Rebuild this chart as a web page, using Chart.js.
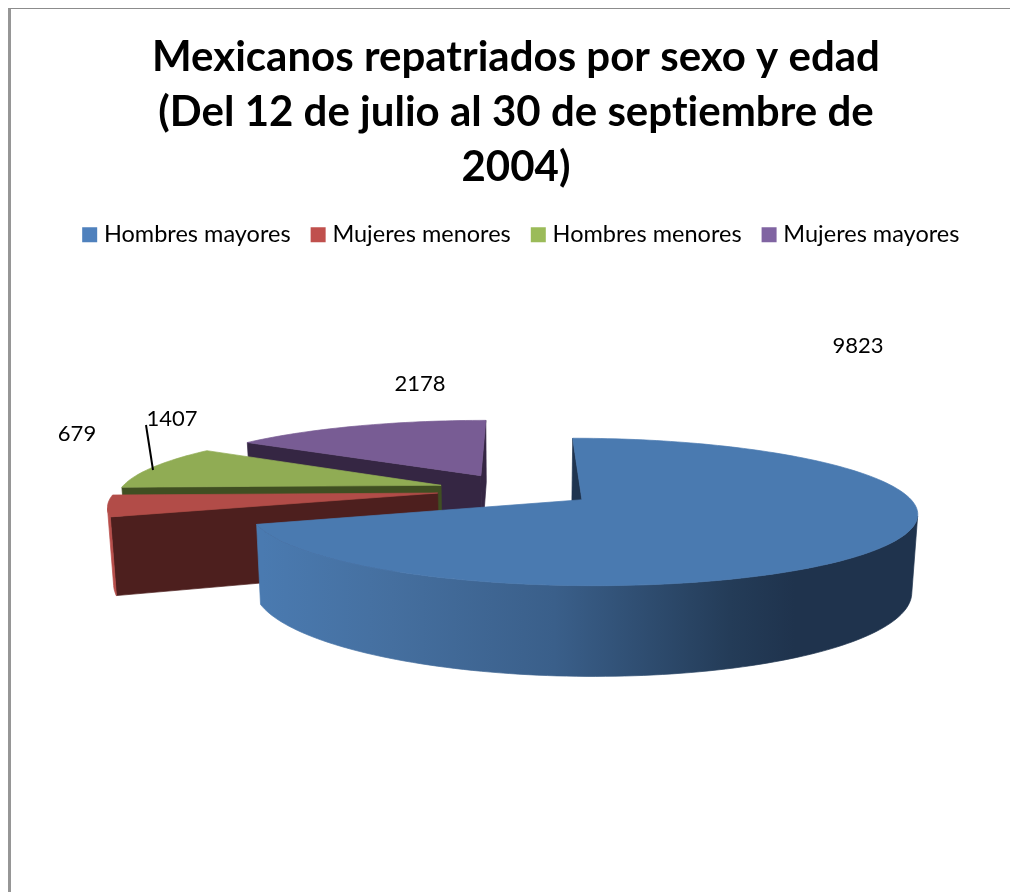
<!DOCTYPE html>
<html lang="es">
<head>
<meta charset="utf-8">
<title>Mexicanos repatriados por sexo y edad</title>
<script src="https://cdn.jsdelivr.net/npm/chart.js@4"></script>
<style>
  html, body { margin: 0; padding: 0; background: #fff; }
  #frame { position: absolute; left: 8px; top: 8px; width: 1002px; height: 884px;
           border-left: 3px solid #969696; border-top: 1px solid #8c8c8c; box-sizing: border-box; }
  canvas { position: absolute; left: 0; top: 0; }
</style>
</head>
<body>
<div id="frame"></div>
<canvas id="pie" width="1010" height="892"></canvas>
<script>
const categories = ['Hombres mayores', 'Mujeres menores', 'Hombres menores', 'Mujeres mayores'];
const values = [9823, 679, 1407, 2178];
const titleLines = ['Mexicanos repatriados por sexo y edad', '(Del 12 de julio al 30 de septiembre de', '2004)'];
const legendColors = ['#4F81BD', '#C0504D', '#9BBB59', '#8064A2'];
const topColors = ['#4a7ab0', '#b24c48', '#90ac54', '#785c94'];
const faceColors = ['#1f344f', '#4d1f1e', '#404f22', '#352643'];
const rimColors = [null, '#b84e4a', '#5f7a35', '#6a4f85'];
const explosion = [78, 80, 80, 80];
const rimScale = [0.987, 0.985, 0.985, 0.99];

// Pie resting on a tilted plane: perspective parameters and label placement.
const RADIUS = 326;
const view = { x: 517, y: 490, tilt: 68.5, persp: 0.162, depth: 74, taper: 0.985 };
const labelAnchors = [[858, 346], [77, 434], [172, 419], [420, 384]];
const leader = [[146, 425], [153, 470]];

function project(u, v, low) {
  const s = 1 / (1 - view.persp * v);
  const taper = low ? view.taper : 1;
  return [
    view.x + RADIUS * u * s * taper,
    view.y + view.tilt * v * s + (low ? view.depth * s : 0)
  ];
}

function signedArea(pts) {
  let a = 0;
  pts.forEach((p, i) => {
    const q = pts[(i + 1) % pts.length];
    a += p[0] * q[1] - q[0] * p[1];
  });
  return a;
}

function fillPath(ctx, pts, color) {
  ctx.beginPath();
  pts.forEach((p, i) => (i ? ctx.lineTo(p[0], p[1]) : ctx.moveTo(p[0], p[1])));
  ctx.closePath();
  ctx.fillStyle = color;
  ctx.strokeStyle = color;
  ctx.lineWidth = 0.7;
  ctx.fill();
  ctx.stroke();
}

// Extruded slices are painted from the arc geometry computed by the doughnut controller.
function drawSlice(ctx, el, index) {
  const mid = (el.startAngle + el.endAngle) / 2;
  const r = el.outerRadius;
  const cu = Math.cos(mid) * el.options.offset / r;
  const cv = Math.sin(mid) * el.options.offset / r;
  const steps = Math.max(8, Math.ceil((el.endAngle - el.startAngle) * 40));
  const rim = [];
  for (let i = 0; i <= steps; i++) {
    const a = el.startAngle + (el.endAngle - el.startAngle) * i / steps;
    rim.push([cu + Math.cos(a) * rimScale[index], cv + Math.sin(a)]);
  }
  const P = (q, low) => project(q[0], q[1], low);
  const apex = [cu, cv];

  [[apex, rim[0]], [rim[steps], apex]].forEach(([a, b]) => {
    const quad = [P(a), P(b), P(b, true), P(a, true)];
    if (signedArea(quad) < 0) fillPath(ctx, quad, faceColors[index]);
  });

  let wall = rimColors[index];
  if (!wall) {
    wall = ctx.createLinearGradient(262, 0, 912, 0);
    wall.addColorStop(0, '#4a7ab0');
    wall.addColorStop(0.2, '#456f9f');
    wall.addColorStop(0.45, '#3a5f8a');
    wall.addColorStop(0.72, '#243c58');
    wall.addColorStop(0.82, '#1f334d');
    wall.addColorStop(1, '#1f334d');
  }
  // The visible part of the outer wall is filled as one run so no seams appear.
  let run = [];
  const flush = () => {
    if (run.length > 1) {
      fillPath(ctx, run.map(q => P(q)).concat(run.slice().reverse().map(q => P(q, true))), wall);
    }
    run = [];
  };
  for (let i = 0; i < steps; i++) {
    const quad = [P(rim[i]), P(rim[i + 1]), P(rim[i + 1], true), P(rim[i], true)];
    if (signedArea(quad) < 0) {
      if (!run.length) run.push(rim[i]);
      run.push(rim[i + 1]);
    } else {
      flush();
    }
  }
  flush();

  fillPath(ctx, [P(apex)].concat(rim.map(q => P(q))), topColors[index]);
}

const tiltedPie = {
  id: 'tiltedPie',
  afterLayout(chart) {
    // The legend row sits a little right of the centred title.
    chart.legend.left += 7;
    chart.legend.right += 7;
  },
  beforeDraw(chart) {
    // A tiny tracking value keeps Lato's ligatures out of the text.
    chart.ctx.letterSpacing = '0.01px';
  },
  beforeDatasetDraw(chart) {
    const ctx = chart.ctx;
    const arcs = chart.getDatasetMeta(0).data;
    const depthOf = el => Math.sin((el.startAngle + el.endAngle) / 2);
    arcs.map((el, i) => [el, i])
      .sort((a, b) => depthOf(a[0]) - depthOf(b[0]))
      .forEach(([el, i]) => drawSlice(ctx, el, i));
    return false;
  },
  afterDatasetsDraw(chart) {
    const ctx = chart.ctx;
    ctx.save();
    ctx.strokeStyle = '#000';
    ctx.lineWidth = 2;
    ctx.beginPath();
    ctx.moveTo(leader[0][0], leader[0][1]);
    ctx.lineTo(leader[1][0], leader[1][1]);
    ctx.stroke();
    ctx.fillStyle = '#000';
    ctx.font = '22px Lato';
    ctx.textAlign = 'center';
    ctx.textBaseline = 'middle';
    values.forEach((v, i) => ctx.fillText(String(v), labelAnchors[i][0], labelAnchors[i][1]));
    ctx.restore();
  }
};

new Chart(document.getElementById('pie'), {
  type: 'pie',
  data: {
    labels: categories,
    datasets: [{ data: values, backgroundColor: legendColors, borderWidth: 0, offset: explosion }]
  },
  options: {
    responsive: false,
    animation: false,
    radius: RADIUS,
    layout: { padding: { left: 22, top: 30 } },
    plugins: {
      tooltip: { enabled: false },
      title: {
        display: true,
        text: titleLines,
        color: '#000',
        font: { family: 'Lato', size: 42, weight: 'bold', lineHeight: 1.31 },
        padding: { top: 0, bottom: 3 }
      },
      legend: {
        position: 'top',
        labels: {
          color: '#000',
          font: { family: 'Lato', size: 23.5 },
          usePointStyle: true,
          pointStyle: 'rect',
          boxWidth: 5,
          boxHeight: 15,
          padding: 25
        }
      }
    }
  },
  plugins: [tiltedPie]
});
</script>
</body>
</html>
